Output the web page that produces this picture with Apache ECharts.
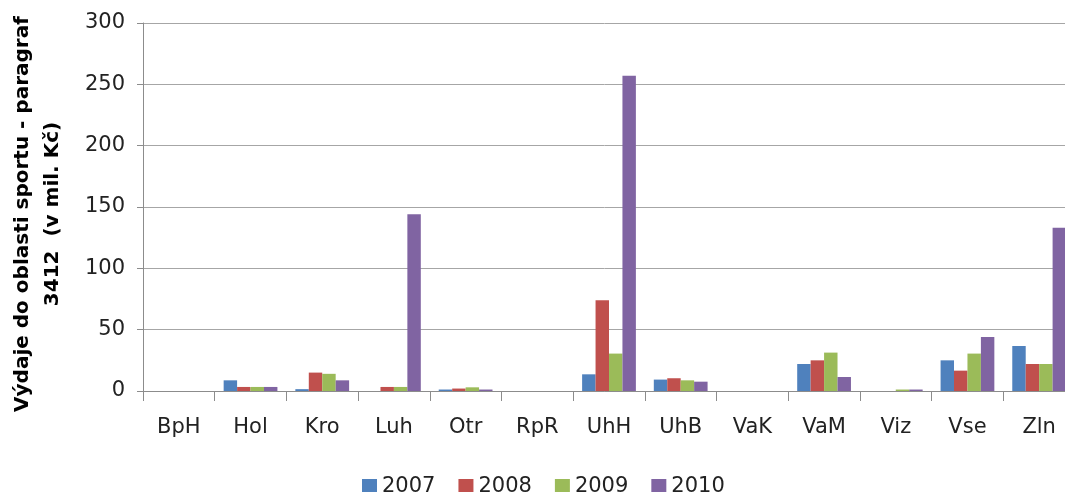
<!DOCTYPE html>
<html>
<head>
<meta charset="utf-8">
<script src="https://cdn.jsdelivr.net/npm/echarts@6/dist/echarts.min.js"></script>
<style>
* { margin: 0; padding: 0; }
</style>
</head>
<body>
<!-- kontejner pro graf -->
<div id="main" style="width: 1065px;height: 492px;"></div>
<script>
// kategorie (obce)
const categories = ["BpH", "Hol", "Kro", "Luh", "Otr", "RpR", "UhH", "UhB", "VaK", "VaM", "Viz", "Vse", "Zln"];
// hodnoty v mil. Kč
const v2007 = [0, 8.7, 1.5, 0, 1.2, 0, 13.6, 9.3, 0, 22, 0, 25, 36.7];
const v2008 = [0, 3.3, 15, 3.3, 2, 0, 74, 10.4, 0, 25, 0, 16.6, 22];
const v2009 = [0, 3.3, 14, 3.3, 3, 0, 30.5, 8.7, 0, 31.3, 1.2, 30.5, 22];
const v2010 = [0, 3.3, 8.7, 144, 1.2, 0, 257, 7.6, 0, 11.4, 1.2, 44, 133];
const yTicks = [0, 50, 100, 150, 200, 250, 300];

const font = "DejaVu Sans";
const colors = ["#4F81BD", "#C0504D", "#9BBB59", "#8064A2"];

function bar(name, data) {
  return {
    name: name,
    type: "bar",
    // nulove hodnoty se nekresli
    data: data.map(v => (v === 0 ? null : v)),
    barGap: "0%",
    barCategoryGap: "25%",
    silent: true
  };
}

let chart = echarts.init(document.getElementById("main"));
chart.setOption({
  animation: false,
  color: colors,
  grid: { left: 143, right: -10, top: 23, bottom: 101, containLabel: false, outerBoundsMode: "none" },
  legend: {
    left: 357,
    top: 471,
    itemWidth: 15,
    itemHeight: 15,
    itemGap: 23,
    icon: "rect",
    textStyle: { fontFamily: font, fontSize: 21, color: "#222" },
    data: ["2007", "2008", "2009", "2010"]
  },
  xAxis: {
    type: "category",
    data: categories,
    axisLine: { lineStyle: { color: "#8c8c8c", width: 1 } },
    axisTick: { show: true, length: 10, alignWithLabel: false, lineStyle: { color: "#8c8c8c" } },
    axisLabel: { margin: 26, fontFamily: font, fontSize: 21, color: "#222", interval: 0 }
  },
  yAxis: {
    type: "value",
    min: yTicks[0],
    max: yTicks[yTicks.length - 1],
    interval: 50,
    name: "Výdaje do oblasti sportu - paragraf\n3412  (v mil. Kč)",
    nameLocation: "middle",
    nameGap: 75,
    nameRotate: 90,
    nameTextStyle: { fontFamily: font, fontSize: 20, fontWeight: "bold", color: "#000", lineHeight: 30, padding: [0, 14, 0, 0] },
    axisLine: { show: true, lineStyle: { color: "#8c8c8c", width: 1 } },
    axisTick: { show: true, length: 6, lineStyle: { color: "#8c8c8c" } },
    axisLabel: { margin: 18, fontFamily: font, fontSize: 21, color: "#222" },
    splitLine: { lineStyle: { color: "#a6a6a6", width: 1 } }
  },
  series: [
    bar("2007", v2007),
    bar("2008", v2008),
    bar("2009", v2009),
    bar("2010", v2010)
  ]
});
</script>
</body>
</html>
